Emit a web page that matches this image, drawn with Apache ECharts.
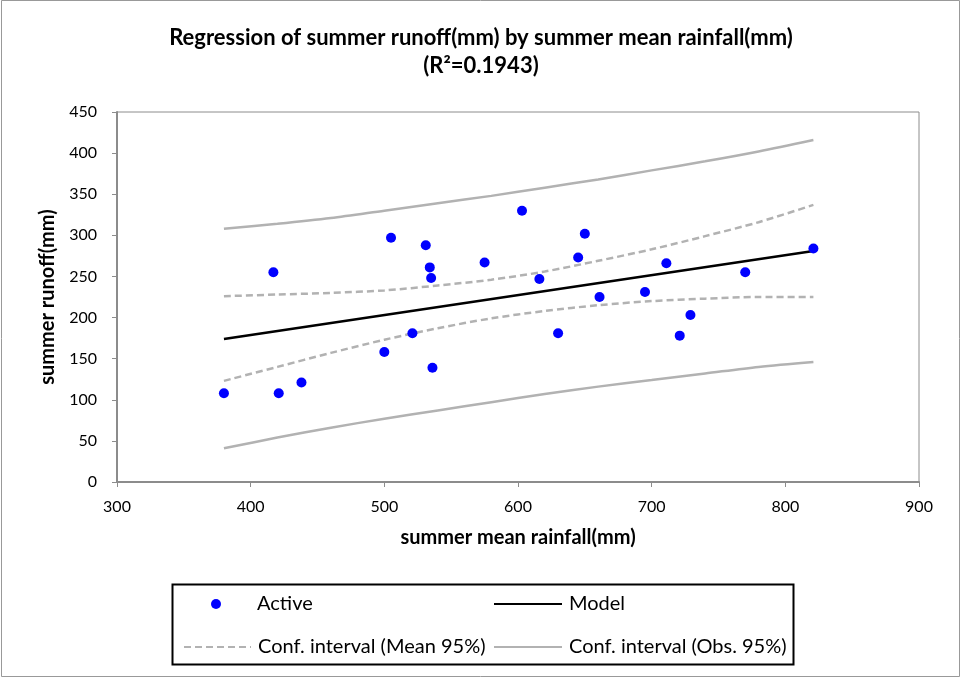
<!DOCTYPE html>
<html>
<head>
<meta charset="utf-8">
<script src="https://cdn.jsdelivr.net/npm/echarts@6/dist/echarts.min.js"></script>
<style>
html,body{margin:0;padding:0;background:#fff;}
#chart{width:962px;height:680px;}
</style>
</head>
<body>
<div id="chart"></div>
<script>
// Observations (Active)
const rainfall = [380, 417, 421, 438, 500, 505, 521, 531, 534, 535, 536, 575, 603, 616, 630, 645, 650, 661, 695, 711, 721, 729, 770, 821];
const runoff   = [108, 255, 108, 121, 158, 297, 181, 288, 261, 248, 139, 267, 330, 247, 181, 273, 302, 225, 231, 266, 178, 203, 255, 284];

// Model line
const modelX = [380, 821];
const modelY = [174, 281];

// Confidence interval curves
const curveX    = [380, 420, 460, 500, 540, 580, 620, 660, 700, 740, 780, 821];
const meanUpper = [226, 228, 230, 233, 239, 246, 256, 269, 283, 299, 316, 337];
const meanLower = [123, 140, 157, 173, 187, 199, 208, 215, 220, 223, 225, 225];
const obsUpper  = [308, 314, 321, 330, 339, 348, 358, 368, 379, 390, 402, 416];
const obsLower  = [41, 54, 66, 77, 87, 97, 107, 116, 124, 132, 140, 146];

// Axis ticks
const xTicks = {min: 300, max: 900, interval: 100};
const yTicks = {min: 0, max: 450, interval: 50};

const FONT = 'Lato';
const pairs = (xs, ys) => xs.map((x, i) => [x, ys[i]]);

const chart = echarts.init(document.getElementById('chart'), null, {renderer: 'canvas'});
const axisGray = '#8c8c8c';
const curveGray = '#b2b2b2';

const legendText = {fontFamily: FONT, fontSize: 20, color: '#000'};
function mkLegend(name, left, top, w, h, pad, hideSymbol) {
  const l = {
    data: [name], left: left, top: top, itemWidth: w, itemHeight: h,
    orient: 'horizontal', padding: 0, itemGap: 0,
    textStyle: Object.assign({}, legendText, {padding: [0, 0, 0, pad]})
  };
  if (hideSymbol) l.itemStyle = {opacity: 0};
  return l;
}

chart.setOption({
  animation: false,
  backgroundColor: '#fff',
  title: {
    text: 'Regression of summer runoff(mm) by summer mean rainfall(mm)\n(R²=0.1943)',
    left: 'center', top: 19,
    textStyle: {fontFamily: FONT, fontWeight: 'bold', fontSize: 22, lineHeight: 28, color: '#000'}
  },
  grid: {left: 117, right: 43, top: 112, bottom: 198, show: true, borderColor: axisGray, borderWidth: 1},
  xAxis: {
    type: 'value', min: xTicks.min, max: xTicks.max, interval: xTicks.interval,
    name: 'summer mean rainfall(mm)', nameLocation: 'middle', nameGap: 46,
    nameTextStyle: {fontFamily: FONT, fontWeight: 'bold', fontSize: 20, color: '#000'},
    axisLine: {lineStyle: {color: axisGray, width: 2}},
    axisTick: {show: true, length: 5, lineStyle: {color: axisGray}},
    axisLabel: {fontFamily: FONT, fontSize: 16, color: '#000', margin: 17},
    splitLine: {show: false}
  },
  yAxis: {
    type: 'value', min: yTicks.min, max: yTicks.max, interval: yTicks.interval,
    name: 'summer runoff(mm)', nameLocation: 'middle', nameGap: 59, nameRotate: 90,
    nameTextStyle: {fontFamily: FONT, fontWeight: 'bold', fontSize: 20, color: '#000'},
    axisLine: {show: true, lineStyle: {color: axisGray, width: 2}},
    axisTick: {show: true, length: 5, lineStyle: {color: axisGray}},
    axisLabel: {fontFamily: FONT, fontSize: 16, color: '#000', margin: 20},
    splitLine: {show: false}
  },
  legend: [
    mkLegend('Active', 211, 594, 10, 10, 31, false),
    mkLegend('Model', 493, 594, 68, 14, 2, true),
    mkLegend('Conf. interval (Mean 95%)', 183, 637, 67, 14, 2, true),
    mkLegend('Conf. interval (Obs. 95%)', 493, 637, 68, 14, 2, true)
  ],
  graphic: [
    {type: 'rect', shape: {x: 1.5, y: 0.5, width: 958, height: 676}, style: {fill: 'none', stroke: '#999', lineWidth: 1}, silent: true, z: -1},
    {type: 'rect', shape: {x: 172.5, y: 584.5, width: 621, height: 80}, style: {fill: 'none', stroke: '#000', lineWidth: 2}, silent: true}
  ],
  series: [
    {name: 'Conf. interval (Obs. 95%)', type: 'line', data: pairs(curveX, obsUpper), showSymbol: false, symbol: 'none', smooth: 0.3,
      lineStyle: {color: curveGray, width: 2.5}, itemStyle: {color: curveGray}, z: 2},
    {name: 'Conf. interval (Obs. 95%)', type: 'line', data: pairs(curveX, obsLower), showSymbol: false, symbol: 'none', smooth: 0.3,
      lineStyle: {color: curveGray, width: 2.5}, itemStyle: {color: curveGray}, z: 2},
    {name: 'Conf. interval (Mean 95%)', type: 'line', data: pairs(curveX, meanUpper), showSymbol: false, symbol: 'none', smooth: 0.3,
      lineStyle: {color: curveGray, width: 2.5, type: [7, 4]}, itemStyle: {color: curveGray}, z: 2},
    {name: 'Conf. interval (Mean 95%)', type: 'line', data: pairs(curveX, meanLower), showSymbol: false, symbol: 'none', smooth: 0.3,
      lineStyle: {color: curveGray, width: 2.5, type: [7, 4]}, itemStyle: {color: curveGray}, z: 2},
    {name: 'Model', type: 'line', data: pairs(modelX, modelY), showSymbol: false, symbol: 'none',
      lineStyle: {color: '#000', width: 2.5}, itemStyle: {color: '#000'}, z: 3},
    {name: 'Active', type: 'scatter', data: pairs(rainfall, runoff), symbol: 'circle', symbolSize: 10,
      itemStyle: {color: '#0000ff', opacity: 1}, z: 4}
  ]
});
</script>
</body>
</html>
